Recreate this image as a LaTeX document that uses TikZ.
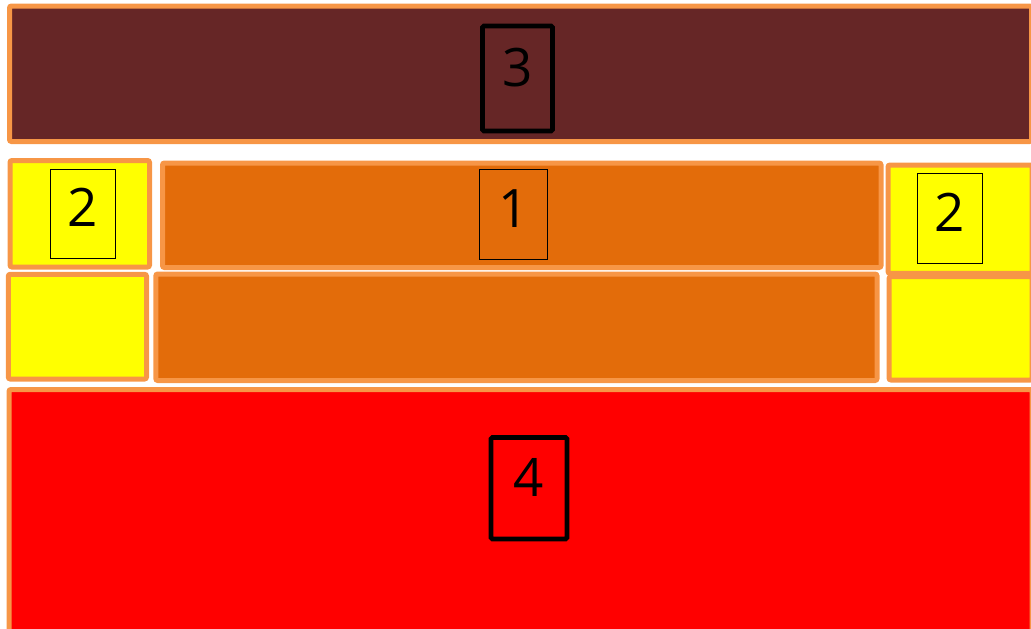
\documentclass[tikz,border=0pt]{standalone}
\usepackage{fontspec}
\setmainfont{Open Sans}
\definecolor{brownfill}{HTML}{662626}
\definecolor{orangefill}{HTML}{E36C0A}
\definecolor{edgeorange}{HTML}{F79646}
\definecolor{yellowfill}{HTML}{FFFF00}
\definecolor{redfill}{HTML}{FF0000}
\begin{document}
\begin{tikzpicture}[x=1pt,y=-1pt,
  panel/.style={draw=edgeorange,line width=5pt,rounded corners=2pt},
  tagthick/.style={draw=black,line width=4.8pt,rounded corners=1.5pt,minimum width=#1,inner sep=0pt},
  tagthin/.style={draw=black,line width=1.1pt,inner sep=0pt},
  digit/.style={anchor=base,font=\fontsize{53}{60}\selectfont,inner sep=0pt}]
\useasboundingbox (0,0) rectangle (1031,629);
% panels
\draw[panel,fill=brownfill] (9.5,6) rectangle (1031.5,141.5);
\draw[panel,fill=yellowfill] (10,160.5) rectangle (149.5,267);
\draw[panel,fill=orangefill] (162.5,163) rectangle (881,267.5);
\draw[panel,fill=yellowfill] (888,165) rectangle (1032,273.3);
\draw[panel,fill=yellowfill] (8.3,274.3) rectangle (146.5,379);
\draw[panel,fill=orangefill] (155.8,274) rectangle (877,380.5);
\draw[panel,fill=yellowfill] (889,276.7) rectangle (1032,380);
\draw[panel,fill=redfill] (9,389.5) rectangle (1032,632);
% label boxes
\draw[black,line width=4.8pt,rounded corners=1.5pt] (482.5,26) rectangle (552.5,131);
\node[digit] (t3) at (517.5,86) {3};
\draw[black,line width=1pt] (479.3,169.3) rectangle (547.3,259);
\node[digit] (t1) at (513.3,227) {1};
\draw[black,line width=1pt] (50,169.3) rectangle (115.7,258.3);
\node[digit] (t2l) at (83,226) {2};
\draw[black,line width=1pt] (917.3,173.3) rectangle (982.7,263.3);
\node[digit] (t2r) at (950,231.7) {2};
\draw[black,line width=4.8pt,rounded corners=1.5pt] (491,437.5) rectangle (567,539);
\node[digit] (t4) at (529,496) {4};
\end{tikzpicture}
\end{document}
